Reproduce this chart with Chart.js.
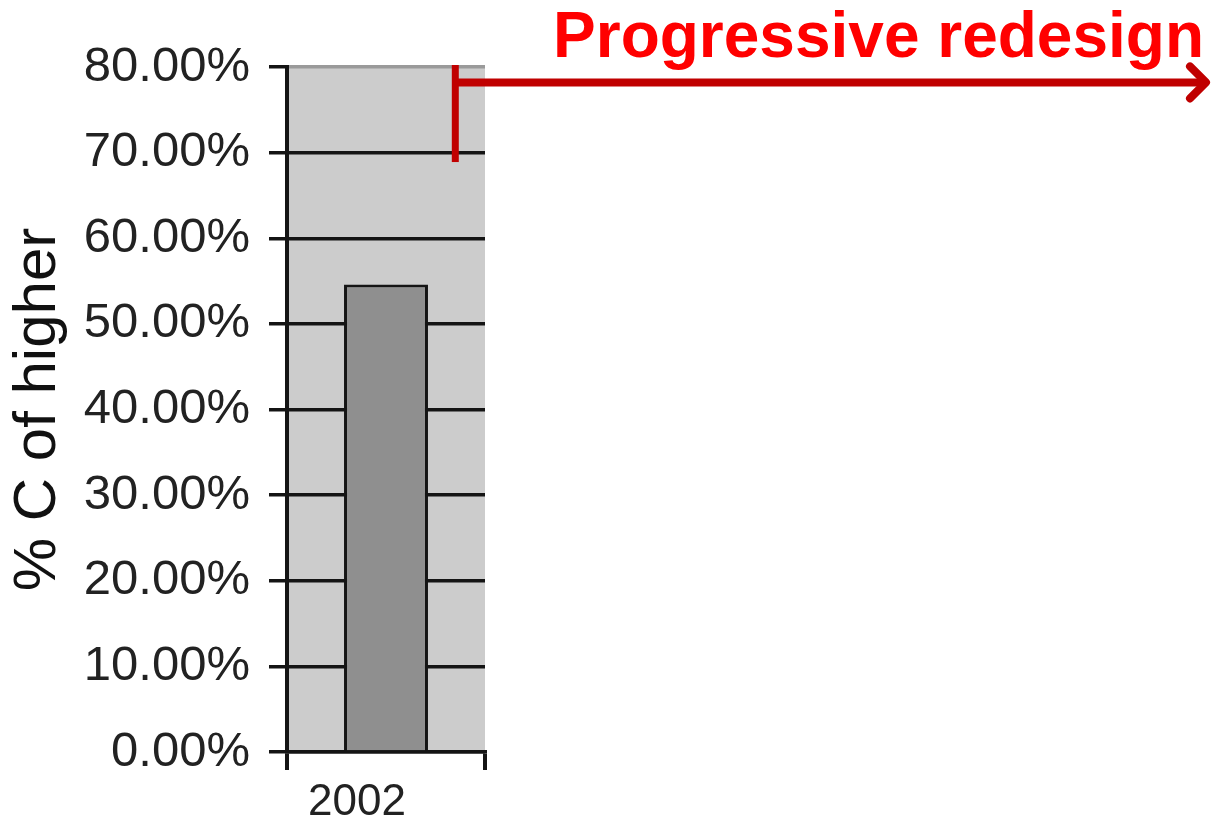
<!DOCTYPE html>
<html><head><meta charset="utf-8">
<script src="https://cdn.jsdelivr.net/npm/chart.js@4.4.1/dist/chart.umd.min.js"></script>
<style>html,body{margin:0;padding:0;background:#fff;overflow:hidden}#wrap{width:1212px;height:825px}</style>
</head><body><div id="wrap"><canvas id="c" width="1212" height="825"></canvas></div>
<script>
// ---- data ----
const categories = ['2002'];
const values = [54.6];
const yTickValues = [0, 10, 20, 30, 40, 50, 60, 70, 80];
const yTitle = '% C of higher';
// ---- annotation (in data units) ----
const annotationLabel = 'Progressive redesign';
const redesignStartOffset = 0.35; // fraction of a category width right of the 2002 centre
const arrowLevel = 78.2;          // % level of the arrow shaft
const markerLow = 68.9;           // % level where the start marker ends

const FONT = '"Liberation Sans", Arial, sans-serif';
const INK = '#141414';

const bgPlugin = {
  id: 'plotBg',
  beforeDraw(chart) {
    const a = chart.chartArea, c = chart.ctx;
    c.save(); c.fillStyle = '#cccccc';
    c.fillRect(a.left, a.top, a.right - a.left, a.bottom - a.top);
    c.restore();
  }
};

const annotPlugin = {
  id: 'redesign',
  afterDraw(chart) {
    const c = chart.ctx, xs = chart.scales.x, ys = chart.scales.y;
    const catW = (xs.right - xs.left) / categories.length;
    const x0 = xs.getPixelForValue(0) + redesignStartOffset * catW;
    const yA = ys.getPixelForValue(arrowLevel);
    const yLow = ys.getPixelForValue(markerLow);
    const yTop = chart.chartArea.top - 2;
    const tip = chart.width - 6;
    c.save();
    c.strokeStyle = '#c00000';
    c.lineCap = 'butt';
    c.lineWidth = 7;
    c.beginPath(); c.moveTo(x0, yTop); c.lineTo(x0, yLow); c.stroke();
    c.lineWidth = 8;
    c.beginPath(); c.moveTo(x0, yA); c.lineTo(tip - 3, yA); c.stroke();
    c.lineCap = 'round'; c.lineJoin = 'round';
    c.beginPath(); c.moveTo(tip - 16, yA - 16); c.lineTo(tip, yA); c.lineTo(tip - 16, yA + 16); c.stroke();
    c.fillStyle = '#ff0000';
    c.font = 'bold 64px ' + FONT;
    c.textAlign = 'right'; c.textBaseline = 'alphabetic';
    c.fillText(annotationLabel, 1204, 57);
    c.restore();
  }
};

new Chart(document.getElementById('c'), {
  type: 'bar',
  data: {
    labels: categories,
    datasets: [{
      data: values,
      backgroundColor: '#8f8f8f',
      borderColor: INK,
      borderWidth: 3,
      categoryPercentage: 1,
      barPercentage: 0.424
    }]
  },
  options: {
    responsive: false,
    animation: false,
    layout: { padding: { left: 0, top: 67, right: 727, bottom: 0 } },
    plugins: { legend: { display: false }, tooltip: { enabled: false } },
    scales: {
      x: {
        offset: true,
        grid: { offset: true, drawOnChartArea: false, drawTicks: true, tickLength: 18, color: INK, lineWidth: 4 },
        border: { display: true, color: INK, width: 3.5 },
        ticks: { font: { family: FONT, size: 44 }, color: '#222', padding: 6, labelOffset: -29, maxRotation: 0, autoSkip: false },
        afterFit(s) { s.height = 73; }
      },
      y: {
        min: 0, max: 80,
        afterBuildTicks(s) { s.ticks = yTickValues.map(v => ({ value: v })); },
        ticks: { callback: v => v.toFixed(2) + '%', font: { family: FONT, size: 49 }, color: '#222', padding: 19 },
        grid: {
          color: ctx => (ctx.tick && ctx.tick.value === 80) ? '#9a9a9a' : INK,
          tickColor: INK, lineWidth: 3.5, tickLength: 18
        },
        border: { display: true, color: INK, width: 4 },
        title: { display: true, text: yTitle, font: { family: FONT, size: 60 }, color: '#111', padding: { top: 2, bottom: 0 } },
        afterFit(s) { s.width = 287; }
      }
    }
  },
  plugins: [bgPlugin, annotPlugin]
});
</script>
</body></html>
